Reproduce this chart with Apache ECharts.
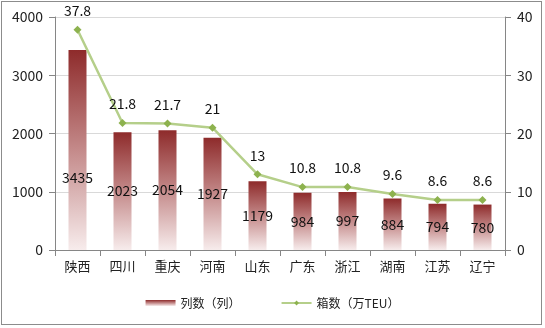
<!DOCTYPE html>
<html>
<head>
<meta charset="utf-8">
<script src="https://cdn.jsdelivr.net/npm/echarts@6/dist/echarts.min.js"></script>
<style>
  html, body { margin: 0; padding: 0; background: #fff; }
  #frame { position: absolute; left: 1px; top: 1px; width: 541px; height: 324px; border: 1px solid #8c8c8c; box-sizing: border-box; }
  #chart { position: absolute; left: 0; top: 0; width: 545px; height: 328px; }
</style>
</head>
<body>
<div id="frame"></div>
<div id="chart"></div>
<script>
const provinces = ['陕西', '四川', '重庆', '河南', '山东', '广东', '浙江', '湖南', '江苏', '辽宁'];
const trainCounts = [3435, 2023, 2054, 1927, 1179, 984, 997, 884, 794, 780];
const containerCounts = [37.8, 21.8, 21.7, 21, 13, 10.8, 10.8, 9.6, 8.6, 8.6];
const leftTicks = [0, 1000, 2000, 3000, 4000];
const rightTicks = [0, 10, 20, 30, 40];

const font = '"Noto Sans CJK SC", "Liberation Sans", sans-serif';
const chart = echarts.init(document.getElementById('chart'));

const barGradient = new echarts.graphic.LinearGradient(0, 0, 0, 1, [
  { offset: 0, color: '#8e2b2b' },
  { offset: 0.5, color: '#c48a8a' },
  { offset: 1, color: '#f7ecec' }
]);

// the tallest bar keeps its value label a little below its middle
const barData = trainCounts.map((v, i) => i === 0 ? { value: v, label: { offset: [0, 28] } } : v);

chart.setOption({
  animation: false,
  grid: { left: 55, right: 40, top: 17, bottom: 78 },
  legend: {
    bottom: 14,
    left: 'center',
    itemGap: 40,
    itemWidth: 30,
    itemHeight: 6,
    textStyle: { fontFamily: font, fontSize: 12, color: '#222' },
    data: [
      { name: '列数（列）', icon: 'rect' },
      { name: '箱数（万TEU）' }
    ]
  },
  xAxis: {
    type: 'category',
    data: provinces,
    axisLine: { lineStyle: { color: '#868686' } },
    axisTick: { show: true, length: 6, lineStyle: { color: '#868686' } },
    axisLabel: { fontFamily: font, fontSize: 13, color: '#222', margin: 10 }
  },
  yAxis: [
    {
      type: 'value', min: leftTicks[0], max: leftTicks[leftTicks.length - 1], interval: 1000,
      axisLine: { show: true, lineStyle: { color: '#868686' } },
      axisTick: { show: true, length: 6, lineStyle: { color: '#868686' } },
      splitLine: { lineStyle: { color: '#d9d9d9' } },
      axisLabel: { fontFamily: font, fontSize: 14, color: '#222', margin: 12, formatter: v => String(v) }
    },
    {
      type: 'value', min: rightTicks[0], max: rightTicks[rightTicks.length - 1], interval: 10,
      axisLine: { show: true, lineStyle: { color: '#868686' } },
      axisTick: { show: true, length: 6, lineStyle: { color: '#868686' } },
      splitLine: { show: false },
      axisLabel: { fontFamily: font, fontSize: 14, color: '#222', margin: 12, formatter: v => String(v) }
    }
  ],
  series: [
    {
      name: '列数（列）',
      type: 'bar',
      data: barData,
      barWidth: 18,
      itemStyle: { color: barGradient },
      label: {
        show: true,
        position: 'inside',
        fontFamily: font,
        fontSize: 14,
        color: '#111'
      }
    },
    {
      name: '箱数（万TEU）',
      type: 'line',
      yAxisIndex: 1,
      data: containerCounts,
      symbol: 'diamond',
      symbolSize: 8,
      lineStyle: { color: '#b5cf8a', width: 2.5 },
      itemStyle: { color: '#8db24e' },
      label: {
        show: true,
        position: 'top',
        distance: 8,
        fontFamily: font,
        fontSize: 14,
        color: '#111'
      }
    }
  ]
});
</script>
</body>
</html>
